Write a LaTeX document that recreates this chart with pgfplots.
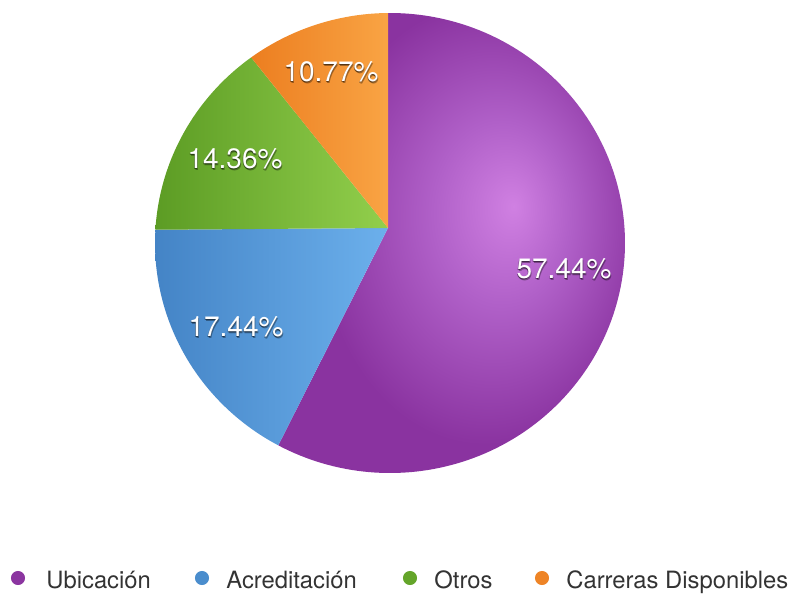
\documentclass[border=0pt]{standalone}
\usepackage{pgfplots}
\pgfplotsset{compat=1.18}
\usepackage{pgfplotstable}
\usepackage{fontspec}
\setmainfont{TeX Gyre Heros}

\definecolor{cPurple}{HTML}{8B35A0}
\definecolor{cBlue}{HTML}{4A8DCD}
\definecolor{cGreen}{HTML}{64A52A}
\definecolor{cOrange}{HTML}{EE8426}
\definecolor{txt}{HTML}{333333}
\definecolor{pL}{HTML}{D080E2}
\definecolor{pM}{HTML}{B060C8}
\definecolor{pD}{HTML}{8A33A0}
\definecolor{bD}{HTML}{4484C6}
\definecolor{bL}{HTML}{6CB0EC}
\definecolor{gD}{HTML}{5C9C24}
\definecolor{gL}{HTML}{92CF4C}
\definecolor{oD}{HTML}{EC7E20}
\definecolor{oL}{HTML}{F9A444}

\pgfdeclareradialshading{purpleshade}{\pgfpoint{9bp}{4bp}}{%
  color(0bp)=(pL); color(10bp)=(pM); color(24bp)=(pD); color(50bp)=(pD)}

\pgfplotstableread{
label pct
Ubicacion 57.44
Acreditacion 17.44
Otros 14.36
Carreras 10.77
}\piedata

\newcommand{\plabel}[3]{%
  \node[plab, text=black, opacity=0.35, yshift=-1.1pt, xshift=0.4pt] at (axis cs:#1,#2) {#3};
  \node[plab, text=black, opacity=0.45, yshift=-0.7pt, xshift=-0.2pt] at (axis cs:#1,#2) {#3};
  \node[plab, text=white] at (axis cs:#1,#2) {#3};}

\begin{document}
\begin{tikzpicture}
\pgfplotstablegetelem{0}{pct}\of\piedata \let\pA\pgfplotsretval
\pgfplotstablegetelem{1}{pct}\of\piedata \let\pB\pgfplotsretval
\pgfplotstablegetelem{2}{pct}\of\piedata \let\pC\pgfplotsretval
\pgfplotstablegetelem{3}{pct}\of\piedata \let\pD\pgfplotsretval
\pgfmathsetmacro{\aA}{90-3.6*\pA}
\pgfmathsetmacro{\aB}{\aA-3.6*\pB}
\pgfmathsetmacro{\aC}{\aB-3.6*\pC}
\pgfmathsetmacro{\aD}{\aC-3.6*\pD}
\tikzset{plab/.style={anchor=base, inner sep=0pt, font=\fontsize{14}{16}\selectfont}}
\tikzset{llab/.style={anchor=base west, inner sep=0pt, text=txt, font=\fontsize{11.9}{13}\selectfont}}
\begin{axis}[
  x=0.5pt, y=0.5pt,
  xmin=0, xmax=793, ymin=0, ymax=593,
  hide axis, clip=false,
  declare function={
    Aa(\t)=cos(\t)^2+1.04395*sin(\t)^2;
    Bb(\t)=-2*cos(\t)+1.04395*15*sin(\t);
    S(\t)=(-Bb(\t)+sqrt(Bb(\t)^2+54986.1*Aa(\t)))/Aa(\t);
  },
]
\path (rel axis cs:0,0) rectangle (rel axis cs:1,1);
% slices
\addplot[draw=none, shade, shading=purpleshade, domain=\aA:90, samples=150, variable=\t]
  ({388+S(\t)*cos(\t)},{365+S(\t)*sin(\t)}) -- (axis cs:388,365) -- cycle;
\addplot[draw=none, left color=bD, right color=bL, domain=\aB:\aA, samples=60, variable=\t]
  ({388+S(\t)*cos(\t)},{365+S(\t)*sin(\t)}) -- (axis cs:388,365) -- cycle;
\addplot[draw=none, left color=gD, right color=gL, domain=\aC:\aB, samples=60, variable=\t]
  ({388+S(\t)*cos(\t)},{365+S(\t)*sin(\t)}) -- (axis cs:388,365) -- cycle;
\addplot[draw=none, left color=oD, right color=oL, domain=\aD:\aC, samples=60, variable=\t]
  ({388+S(\t)*cos(\t)},{365+S(\t)*sin(\t)}) -- (axis cs:388,365) -- cycle;

% percentage labels
\plabel{564}{315}{57.44\%}
\plabel{236}{257}{17.44\%}
\plabel{235}{425}{14.36\%}
\plabel{331}{512}{10.77\%}

% legend
\addplot[only marks, mark=*, mark size=3.3pt, color=cPurple] coordinates {(18,15)};
\addplot[only marks, mark=*, mark size=3.3pt, color=cBlue] coordinates {(202,15)};
\addplot[only marks, mark=*, mark size=3.3pt, color=cGreen] coordinates {(410,15)};
\addplot[only marks, mark=*, mark size=3.3pt, color=cOrange] coordinates {(542,15)};
\node[llab] at (axis cs:46,5) {Ubicación};
\node[llab] at (axis cs:226,5) {Acreditación};
\node[llab] at (axis cs:434,5) {Otros};
\node[llab] at (axis cs:566,5) {Carreras Disponibles};
\end{axis}
\end{tikzpicture}
\end{document}
